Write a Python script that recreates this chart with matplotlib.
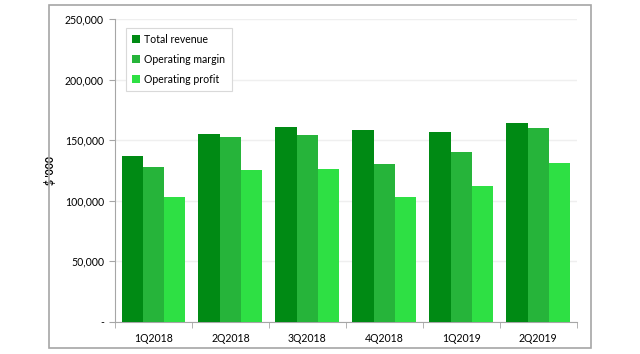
import numpy as np
import matplotlib.pyplot as plt
from matplotlib.patches import Rectangle
from matplotlib.ticker import FuncFormatter

quarters = ['1Q2018', '2Q2018', '3Q2018', '4Q2018', '1Q2019', '2Q2019']
total_revenue = [137000, 155200, 161200, 158500, 156600, 164500]
operating_margin = [128000, 152400, 154100, 130100, 140300, 160100]
operating_profit = [102800, 125700, 126000, 103100, 112400, 130900]

series = [
    ('Total revenue', total_revenue, '#008a14'),
    ('Operating margin', operating_margin, '#26b43a'),
    ('Operating profit', operating_profit, '#2ee044'),
]

plt.rcParams['font.family'] = ['Lato', 'DejaVu Sans']
fs = 7.6

fig = plt.figure(figsize=(6.4, 3.54), dpi=100)
# grey frame round the chart area
fig.patches.append(Rectangle((0.0766, 0.017), 0.847, 0.969, transform=fig.transFigure,
                             fill=False, edgecolor='#a6a6a6', linewidth=1.2))

ax = fig.add_axes([0.1797, 0.0912, 0.7213, 0.8543])

x = np.arange(len(quarters))
w = 0.277
for i, (name, vals, col) in enumerate(series):
    ax.bar(x + (i - 1) * w, vals, w, color=col, label=name, zorder=3)

ax.set_xlim(-0.5, len(quarters) - 0.5)
ax.set_ylim(0, 250000)
ax.set_yticks(np.arange(0, 250001, 50000))
ax.yaxis.set_major_formatter(FuncFormatter(lambda v, p: '-' if v == 0 else f'{int(v):,}'))
ax.set_xticks(x)
ax.set_xticklabels(quarters)
ax.set_xticks(np.arange(-0.5, len(quarters)), minor=True)
ax.tick_params(axis='x', which='major', length=0, pad=8, labelsize=fs)
ax.tick_params(axis='x', which='minor', length=4, color='#a6a6a6')
ax.tick_params(axis='y', length=4, color='#a6a6a6', labelsize=fs, pad=4)

ax.grid(axis='y', color='#efefef', linewidth=1, zorder=0)
for s in ['top', 'right']:
    ax.spines[s].set_visible(False)
for s in ['left', 'bottom']:
    ax.spines[s].set_color('#a6a6a6')

ax.set_ylabel("$ '000", fontsize=fs, fontweight='bold', labelpad=6)

leg = ax.legend(loc='upper left', bbox_to_anchor=(0.012, 0.99), fontsize=fs,
                handlelength=0.75, handleheight=0.75, handletextpad=0.4,
                labelspacing=0.85, borderpad=0.6, fancybox=False, framealpha=1)
leg.get_frame().set_edgecolor('#d9d9d9')
leg.get_frame().set_linewidth(0.8)

fig.savefig('out.png', dpi=100)
